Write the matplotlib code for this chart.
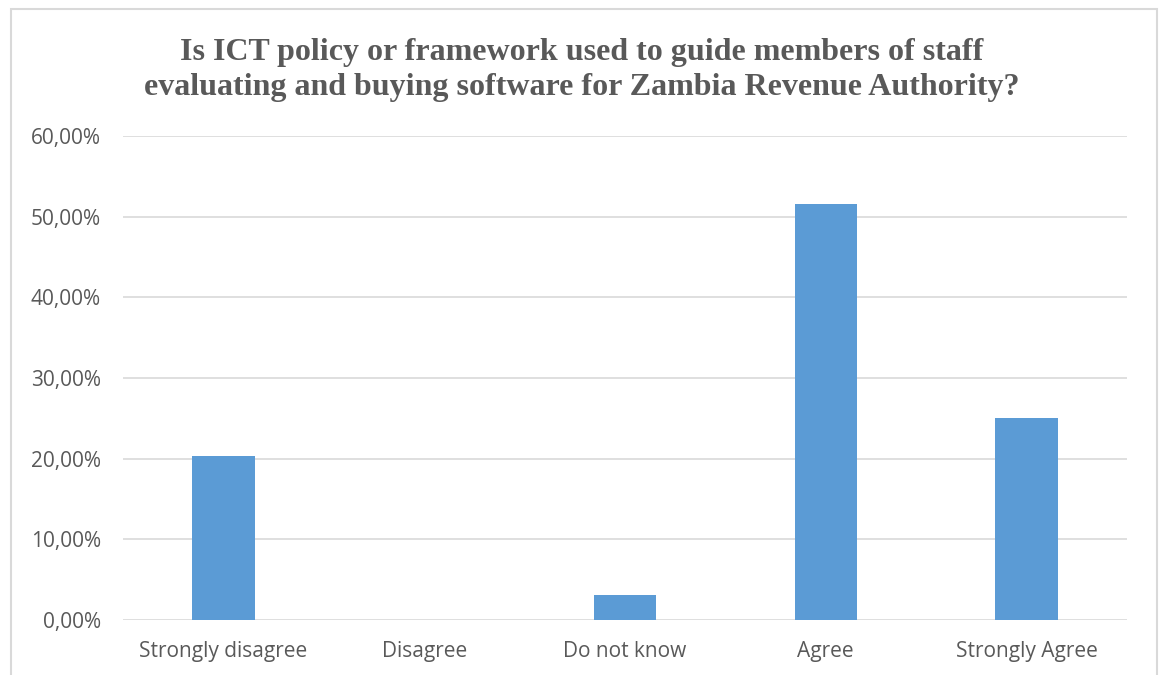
import matplotlib
matplotlib.use('Agg')
import matplotlib.pyplot as plt
import matplotlib.ticker as mticker
from matplotlib.patches import Rectangle
import numpy as np

# data
categories = ['Strongly disagree', 'Disagree', 'Do not know', 'Agree', 'Strongly Agree']
shares = [20.3, 0.0, 3.1, 51.6, 25.0]
y_ticks = [0, 10, 20, 30, 40, 50, 60]

W, H = 1163, 675
fig = plt.figure(figsize=(W / 100, H / 100), dpi=100)

# light grey frame round the chart (bottom edge falls off the picture)
fig.patches.append(Rectangle((11 / W, -0.05), (1157 - 11) / W, 1.05 - 9 / H,
                             transform=fig.transFigure, fill=False,
                             edgecolor='#d9d9d9', linewidth=1.5))

ax = fig.add_axes([123 / W, 1 - 620 / H, (1127 - 123) / W, (620 - 136) / H])

x = np.arange(len(categories))
ax.bar(x, shares, width=0.31, color='#5b9bd5', zorder=3)

ax.set_xlim(-0.5, len(categories) - 0.5)
ax.set_ylim(0, 60)
ax.set_yticks(y_ticks)
ax.yaxis.set_major_formatter(mticker.FuncFormatter(lambda v, p: f'{v:.2f}%'.replace('.', ',')))
ax.set_xticks(x)
ax.set_xticklabels(categories)

ax.grid(axis='y', color='#d9d9d9', linewidth=1.2, zorder=0)
for s in ['top', 'right', 'left', 'bottom']:
    ax.spines[s].set_visible(False)
ax.tick_params(length=0, labelsize=15, labelcolor='#595959')
ax.tick_params(axis='y', pad=16)
ax.tick_params(axis='x', pad=15)
for lab in ax.get_xticklabels() + ax.get_yticklabels():
    lab.set_family('Open Sans')

fig.text(0.5, 1 - 70 / H,
         'Is ICT policy or framework used to guide members of staff\n'
         'evaluating and buying software for Zambia Revenue Authority?',
         ha='center', va='center', fontsize=23, fontweight='bold',
         family='Liberation Serif', color='#595959', linespacing=1.25)

fig.savefig('out.png', dpi=100)
